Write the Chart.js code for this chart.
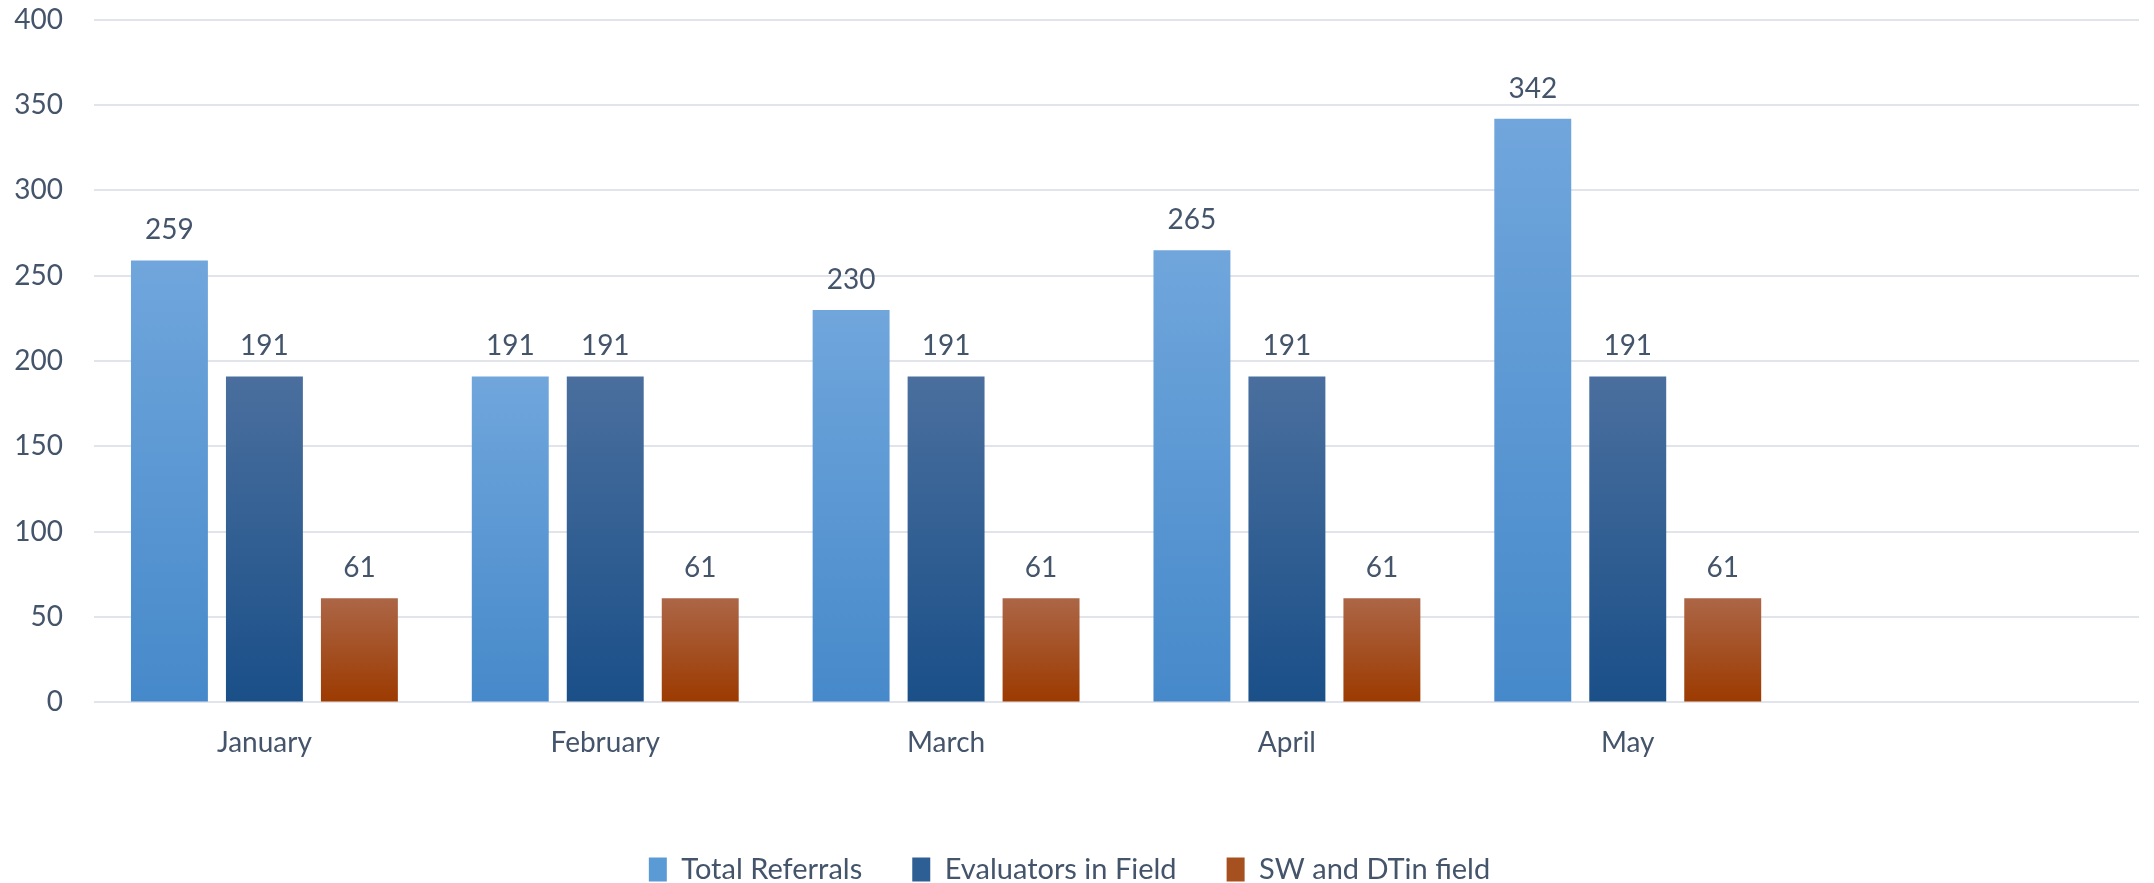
<!DOCTYPE html>
<html>
<head>
<meta charset="utf-8">
<script src="https://cdn.jsdelivr.net/npm/chart.js@4/dist/chart.umd.min.js"></script>
<style>
  html, body { margin: 0; padding: 0; background: #fff; overflow: hidden; }
  #wrap { position: relative; width: 2154px; height: 922px; margin-top: -28px; }
</style>
</head>
<body>
<div id="wrap"><canvas id="myChart"></canvas></div>
<script>
(() => {
  'use strict'
  // données
  const months = ['January', 'February', 'March', 'April', 'May', ''];
  const totalReferrals = [259, 191, 230, 265, 342, null];
  const evaluatorsInField = [191, 191, 191, 191, 191, null];
  const swDtInField = [61, 61, 61, 61, 61, null];
  const yTicks = [0, 50, 100, 150, 200, 250, 300, 350, 400];

  const textColor = '#44546A';
  const fontFamily = 'Lato, "Open Sans", sans-serif';

  // dégradé vertical par barre (haut clair -> bas foncé)
  const gradient = (top, bottom) => (context) => {
    const chart = context.chart;
    const y = chart.scales && chart.scales.y;
    const v = context.raw;
    if (!y || v == null || !chart.chartArea) return bottom;
    const y0 = y.getPixelForValue(v);
    const y1 = y.getPixelForValue(0);
    if (!isFinite(y0) || !isFinite(y1) || y0 === y1) return bottom;
    const g = chart.ctx.createLinearGradient(0, y0, 0, y1);
    g.addColorStop(0, top);
    g.addColorStop(1, bottom);
    return g;
  };

  // étiquettes de valeur au-dessus des barres
  const valueLabels = {
    id: 'valueLabels',
    afterDatasetsDraw(chart) {
      const ctx = chart.ctx;
      ctx.save();
      ctx.fillStyle = textColor;
      ctx.font = '28px ' + fontFamily;
      ctx.textAlign = 'center';
      ctx.textBaseline = 'alphabetic';
      chart.data.datasets.forEach((ds, i) => {
        chart.getDatasetMeta(i).data.forEach((bar, j) => {
          const v = ds.data[j];
          if (v == null) return;
          ctx.fillText(String(v), bar.x, bar.y - 21);
        });
      });
      ctx.restore();
    }
  };

  new Chart(document.getElementById('myChart'), {
    type: 'bar',
    data: {
      labels: months,
      datasets: [{
        label: 'Total Referrals',
        data: totalReferrals,
        backgroundColor: gradient('#70A6DC', '#4689CA'),
        legendColor: '#5B9BD5'
      }, {
        label: 'Evaluators in Field',
        data: evaluatorsInField,
        backgroundColor: gradient('#4A6F9E', '#1A4F88'),
        legendColor: '#2E5F94'
      }, {
        label: 'SW and DTin field',
        data: swDtInField,
        backgroundColor: gradient('#AC6646', '#9C3A00'),
        legendColor: '#A5501E'
      }]
    },
    options: {
      responsive: true,
      maintainAspectRatio: false,
      animation: false,
      categoryPercentage: 0.836,
      barPercentage: 0.81,
      layout: { padding: { top: 0, right: 15, left: 0, bottom: 0 } },
      scales: {
        x: {
          grid: { display: false },
          border: { display: false },
          afterFit: (scale) => { scale.height += 29; },
          ticks: {
            color: textColor,
            font: { family: fontFamily, size: 28 },
            padding: 16,
            maxRotation: 0
          }
        },
        y: {
          min: 0,
          max: 400,
          afterBuildTicks: (scale) => { scale.ticks = yTicks.map(v => ({ value: v })); },
          afterFit: (scale) => { scale.width = 94; },
          grid: { color: '#E1E5EB', lineWidth: 2, drawTicks: false },
          border: { display: false },
          ticks: {
            color: textColor,
            font: { family: fontFamily, size: 28 },
            padding: 31
          }
        }
      },
      plugins: {
        legend: {
          display: true,
          position: 'bottom',
          labels: {
            color: textColor,
            font: { family: fontFamily, size: 29 },
            boxWidth: 18,
            boxHeight: 24,
            padding: 50,
            generateLabels: (chart) => chart.data.datasets.map((ds, i) => ({
              text: ds.label,
              fillStyle: ds.legendColor,
              strokeStyle: ds.legendColor,
              lineWidth: 0,
              fontColor: textColor,
              datasetIndex: i,
              hidden: false
            }))
          }
        },
        tooltip: { enabled: false }
      }
    },
    plugins: [valueLabels]
  });
})();
</script>
</body>
</html>
